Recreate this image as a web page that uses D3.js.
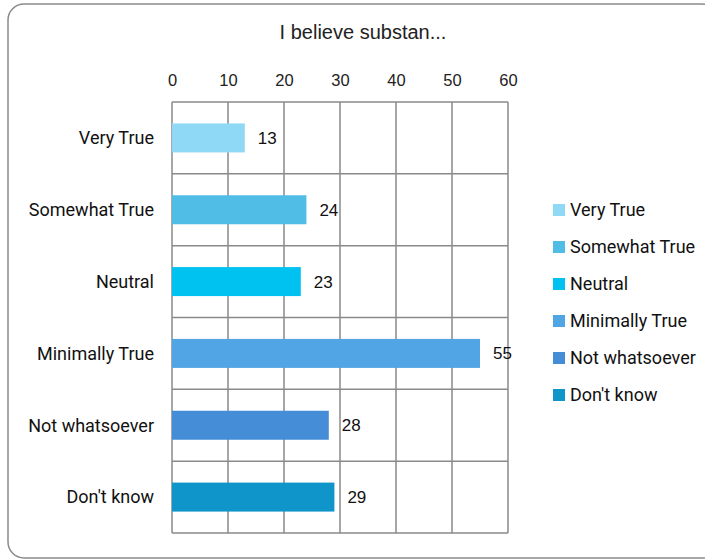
<!DOCTYPE html>
<html>
<head>
<meta charset="utf-8">
<script src="https://cdn.jsdelivr.net/npm/d3@7"></script>
<style>
  body { margin: 0; background: #fff; }
  svg { display: block; }
</style>
</head>
<body>
<div id="chart"></div>
<script>
const categories = ["Very True", "Somewhat True", "Neutral", "Minimally True", "Not whatsoever", "Don't know"];
const values = [13, 24, 23, 55, 28, 29];
const colors = ["#8fd9f6", "#4fbde6", "#00c2f1", "#52a5e5", "#458ed7", "#0f95c9"];
const xTicks = [0, 10, 20, 30, 40, 50, 60];
const title = "I believe substan...";

const width = 705;
const height = 559;
const plot = { left: 172, right: 508, top: 102, bottom: 533 };

const svg = d3.select("#chart").append("svg")
  .attr("width", width)
  .attr("height", height);

// outer frame
svg.append("rect")
  .attr("x", 8).attr("y", 4)
  .attr("width", 710).attr("height", 554)
  .attr("rx", 16)
  .attr("fill", "#fff")
  .attr("stroke", "#8a8a8a")
  .attr("stroke-width", 1.5);

svg.append("text")
  .attr("x", 363).attr("y", 39)
  .attr("text-anchor", "middle")
  .attr("font-family", "Liberation Sans, Arial, sans-serif")
  .attr("font-size", 20)
  .attr("fill", "#222")
  .text(title);

const x = d3.scaleLinear().domain([0, 60]).range([plot.left, plot.right]);
const y = d3.scaleBand().domain(categories).range([plot.top, plot.bottom]).paddingInner(0).paddingOuter(0);

// top tick labels
const xAxis = svg.append("g")
  .attr("transform", `translate(0, ${plot.top - 16})`)
  .call(d3.axisTop(x).tickValues(xTicks).tickSize(0).tickPadding(0));
xAxis.select(".domain").remove();
xAxis.selectAll("text")
  .attr("font-family", "Liberation Sans, Arial, sans-serif")
  .attr("font-size", 16.5)
  .attr("fill", "#222");

// vertical gridlines
const grid = svg.append("g");
grid.selectAll("line.v")
  .data(xTicks)
  .join("line")
  .attr("class", "v")
  .attr("x1", (d) => x(d)).attr("x2", (d) => x(d))
  .attr("y1", plot.top).attr("y2", plot.bottom)
  .attr("stroke", "#8a8a8a").attr("stroke-width", 1.5);

// horizontal gridlines between categories
const hLines = categories.map((c) => y(c)).concat([plot.bottom]);
grid.selectAll("line.h")
  .data(hLines)
  .join("line")
  .attr("class", "h")
  .attr("x1", plot.left).attr("x2", plot.right)
  .attr("y1", (d) => d).attr("y2", (d) => d)
  .attr("stroke", "#8a8a8a").attr("stroke-width", 1.5);

// bars
const barH = 29;
svg.append("g").selectAll("rect")
  .data(categories)
  .join("rect")
  .attr("x", x(0))
  .attr("y", (d) => y(d) + y.bandwidth() / 2 - barH / 2)
  .attr("width", (d, i) => x(values[i]) - x(0))
  .attr("height", barH)
  .attr("fill", (d, i) => colors[i]);

// value labels
svg.append("g").selectAll("text")
  .data(categories)
  .join("text")
  .attr("x", (d, i) => x(values[i]) + 13)
  .attr("y", (d) => y(d) + y.bandwidth() / 2)
  .attr("dy", "0.35em")
  .attr("font-family", "Liberation Sans, Arial, sans-serif")
  .attr("font-size", 17)
  .attr("fill", "#111")
  .text((d, i) => values[i]);

// category labels
svg.append("g").selectAll("text")
  .data(categories)
  .join("text")
  .attr("x", 154)
  .attr("y", (d) => y(d) + y.bandwidth() / 2)
  .attr("dy", "0.35em")
  .attr("text-anchor", "end")
  .attr("font-family", "Roboto, sans-serif")
  .attr("font-size", 18)
  .attr("fill", "#111")
  .text((d) => d);

// legend
const legend = svg.append("g")
  .selectAll("g")
  .data(categories)
  .join("g")
  .attr("transform", (d, i) => `translate(553, ${210 + i * 37})`);
legend.append("rect")
  .attr("x", 0).attr("y", -6)
  .attr("width", 12).attr("height", 12)
  .attr("fill", (d, i) => colors[i]);
legend.append("text")
  .attr("x", 17).attr("y", 0)
  .attr("dy", "0.35em")
  .attr("font-family", "Roboto, sans-serif")
  .attr("font-size", 18)
  .attr("fill", "#111")
  .text((d) => d);
</script>
</body>
</html>
